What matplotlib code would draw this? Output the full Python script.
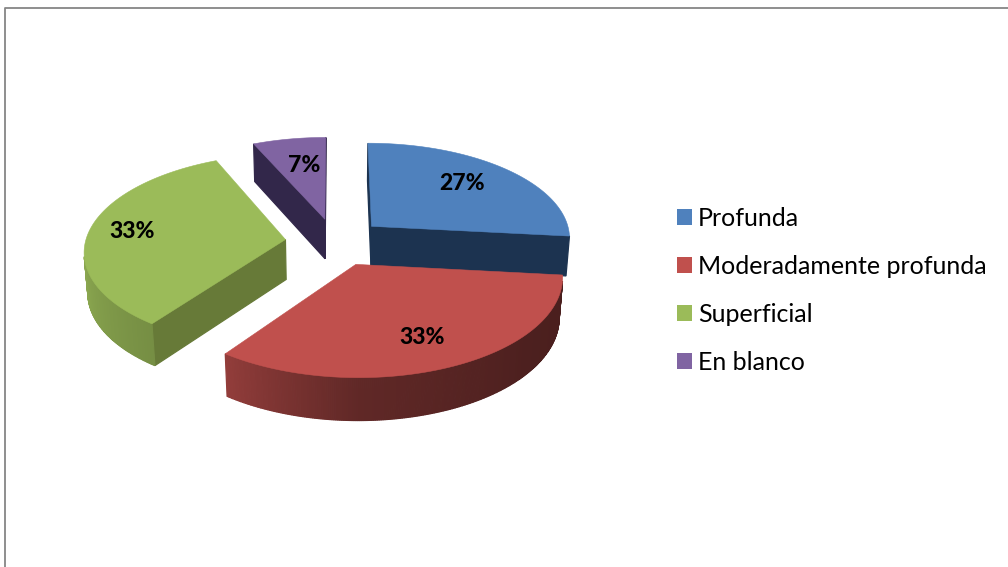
import numpy as np
import matplotlib.pyplot as plt
from matplotlib.patches import Patch, Polygon

plt.rcParams['font.family'] = ['Lato', 'DejaVu Sans']

categories = ["Profunda", "Moderadamente profunda", "Superficial", "En blanco"]
counts = [4, 5, 5, 1]
top_colors = ["#4F81BD", "#C0504D", "#9BBB59", "#8064A2"]
cut_colors = ["#1C3350", "#4A1D1C", "#677A38", "#32274A"]
label_pos = [(462, 184), (422, 338), (132, 232), (304, 165)]
draw_order = [3, 0, 2, 1]

# perspective model fitted to the picture, pixels
cx, cy = 335, 242
rx, ry = 200, 95.5
persp = 0.11
height = 40
explode = 0.25


def project(x, z, h=0.0):
    d = 1 + persp * z + 0.015 * h
    return cx + rx * x / d, cy - ry * z / (1 + persp * z) + height * h / (1 + 0.5 * persp * z)


def wall_color(base, ang):
    # outer wall gets darker towards the right
    f = np.interp(ang, [90, 130, 180, 216, 270, 290], [.38, .40, .50, .76, .92, .95])
    rgb = np.array(plt.matplotlib.colors.to_rgb(base))
    return tuple(rgb * f)


def front_facing(quad):
    xs = np.array([p[0] for p in quad])
    ys = np.array([p[1] for p in quad])
    return np.sum(xs * np.roll(ys, -1) - np.roll(xs, -1) * ys) < 0


fig = plt.figure(figsize=(10.08, 5.67), dpi=100)
ax = fig.add_axes([0, 0, 1, 1])
ax.set_xlim(0, 1008)
ax.set_ylim(567, 0)
ax.axis("off")

# chart frame, only top and left are inside the crop
ax.plot([4.7, 4.7, 1008], [567, 7.5, 7.5], color="#868686", lw=1.3)

total = sum(counts)
edges = np.cumsum([0] + counts) / total * 360

for i in draw_order:
    a0, a1 = edges[i], edges[i + 1]
    mid = np.radians((a0 + a1) / 2)
    ox, oz = explode * np.sin(mid), explode * np.cos(mid)
    angs = np.linspace(a0, a1, int(2 * (a1 - a0)) + 2)
    rad = np.radians(angs)
    ring = [(ox, oz)] + [(ox + np.sin(t), oz + np.cos(t)) for t in rad]

    for j in range(len(ring)):
        p, q = ring[j], ring[(j + 1) % len(ring)]
        quad = [project(*p), project(*q), project(*q, 1), project(*p, 1)]
        if not front_facing(quad):
            continue
        if j == 0 or j == len(ring) - 1:
            col = cut_colors[i]
        else:
            col = wall_color(top_colors[i], (angs[j - 1] + angs[j]) / 2)
        ax.add_patch(Polygon(quad, closed=True, facecolor=col, edgecolor=col, lw=0.9))

    ax.add_patch(Polygon([project(*p) for p in ring], closed=True,
                         facecolor=top_colors[i], edgecolor=top_colors[i], lw=0.4))

for i in range(len(counts)):
    ax.text(*label_pos[i], f"{round(100 * counts[i] / total)}%", ha="center", va="center",
            fontsize=16.5, fontweight=900, color="black")

handles = [Patch(facecolor=c, edgecolor="none") for c in top_colors]
fs = 18
px = fs * 100 / 72
ax.legend(handles, categories, loc="upper left", bbox_to_anchor=(677 / 1008, 1 - 207 / 567),
          frameon=False, fontsize=fs, borderpad=0, borderaxespad=0,
          handlelength=15 / px, handleheight=15 / px, handletextpad=6 / px,
          labelspacing=(48 - px * 0.92) / px)

plt.savefig("out.png", dpi=100)
